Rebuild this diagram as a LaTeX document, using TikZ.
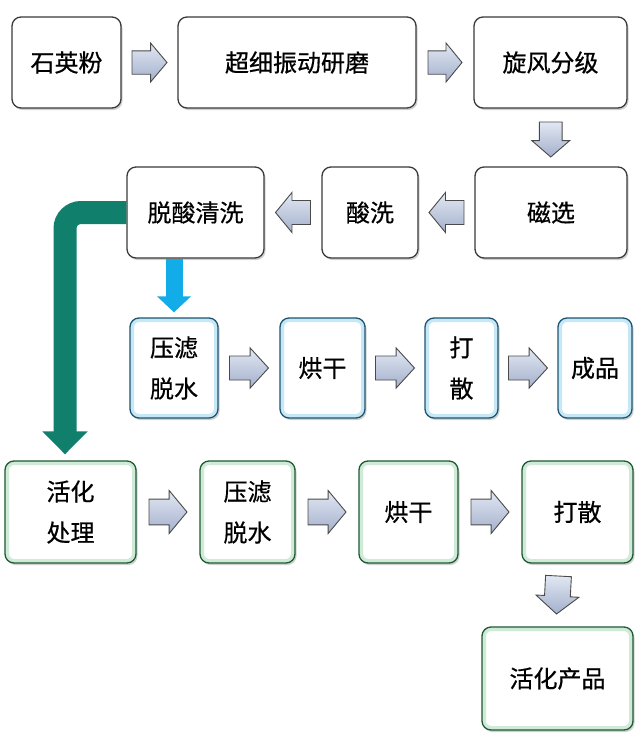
\documentclass[tikz,border=0pt]{standalone}
\usepackage{fontspec}
\newfontfamily\cjk[FakeBold=0.6]{Noto Sans CJK SC}
\usetikzlibrary{calc,shadows,arrows.meta}
\definecolor{boxgray}{HTML}{3A3A3A}
\definecolor{blueborder}{HTML}{1E5470}
\definecolor{glowblue}{HTML}{C6E8F6}
\definecolor{greenborder}{HTML}{1D5A33}
\definecolor{glowgreen}{HTML}{CFEBD7}
\definecolor{greenarr}{HTML}{10806C}
\definecolor{bluearr}{HTML}{12ADE9}
\definecolor{arrtop}{HTML}{E2E8F3}
\definecolor{arrbot}{HTML}{A3B0CC}
\definecolor{arredge}{HTML}{4A4A4A}
\tikzset{
  box/.style={draw=boxgray, line width=1.3pt, rounded corners=9pt, fill=white,
    align=center, inner sep=0pt, text=black,
    font=\cjk\fontsize{24}{41}\selectfont,
    drop shadow={shadow xshift=1.5pt, shadow yshift=-2pt, opacity=0.3, fill=black!60}},
  bluebox/.style={box, draw=blueborder,
    path picture={\draw[glowblue, line width=8pt, rounded corners=9pt]
      (path picture bounding box.south west) rectangle (path picture bounding box.north east);}},
  greenbox/.style={box, draw=greenborder,
    path picture={\draw[glowgreen, line width=8pt, rounded corners=9pt]
      (path picture bounding box.south west) rectangle (path picture bounding box.north east);}},
  barrow/.style={draw=arredge, line width=0.9pt, top color=arrtop, bottom color=arrbot, line join=miter},
}
\newcommand\blockarr[4]{%
  \begin{scope}[shift={#1}, rotate=#2]
    \pgfmathsetmacro\baL{#3/2}\pgfmathsetmacro\baW{#4/2}%
    \pgfmathsetmacro\baS{#4*0.3}\pgfmathsetmacro\baX{#3/2-#3*0.47}%
    \draw[barrow] (-\baL,-\baS) -- (\baX,-\baS) -- (\baX,-\baW) -- (\baL,0) -- (\baX,\baW) -- (\baX,\baS) -- (-\baL,\baS) -- cycle;
  \end{scope}}
\begin{document}
\begin{tikzpicture}[x=1pt, y=-1pt]
\fill[white] (0,0) rectangle (640,742);
\useasboundingbox (0,0) rectangle (640,742);
% row 1
\node[box, minimum width=109pt, minimum height=91pt] (n1) at (66.5,62.5) {石英粉};
\node[box, minimum width=238pt, minimum height=91pt] (n2) at (297,62.5) {超细振动研磨};
\node[box, minimum width=153pt, minimum height=91pt] (n3) at (550.5,62.5) {旋风分级};
% row 2
\node[box, minimum width=152pt, minimum height=91pt] (n4) at (551,212.5) {磁选};
\node[box, minimum width=96pt, minimum height=91pt] (n5) at (370,212.5) {酸洗};
\node[box, minimum width=137pt, minimum height=91pt] (n6) at (195.5,212.5) {脱酸清洗};
% row 3
\node[bluebox, minimum width=88pt, minimum height=100pt] (n7) at (174,368) {压滤\\脱水};
\node[bluebox, minimum width=85pt, minimum height=100pt] (n8) at (322.5,368) {烘干};
\node[bluebox, minimum width=73pt, minimum height=100pt] (n9) at (461.5,368) {打\\散};
\node[bluebox, minimum width=74pt, minimum height=100pt] (n10) at (595,368) {成品};
% row 4
\node[greenbox, minimum width=131pt, minimum height=102pt] (n11) at (70.5,512) {活化\\处理};
\node[greenbox, minimum width=95pt, minimum height=102pt] (n12) at (247.5,512) {压滤\\脱水};
\node[greenbox, minimum width=99pt, minimum height=102pt] (n13) at (408.5,512) {烘干};
\node[greenbox, minimum width=111pt, minimum height=102pt] (n14) at (577.5,512) {打散};
\node[greenbox, minimum width=151pt, minimum height=103pt] (n15) at (557.5,678.5) {活化产品};
% block arrows
\blockarr{($(n1.east)!0.5!(n2.west)$)}{0}{35}{39}
\blockarr{($(n2.east)!0.5!(n3.west)$)}{0}{34}{39}
\blockarr{($(n3.south)!0.5!(n4.north)+(0,2)$)}{-90}{35}{38}
\blockarr{($(n4.west)!0.5!(n5.east)$)}{180}{35}{40}
\blockarr{($(n5.west)!0.5!(n6.east)$)}{180}{35}{40}
\blockarr{($(n7.east)!0.5!(n8.west)$)}{0}{39}{40}
\blockarr{($(n8.east)!0.5!(n9.west)$)}{0}{39}{40}
\blockarr{($(n9.east)!0.5!(n10.west)$)}{0}{39}{40}
\blockarr{($(n11.east)!0.5!(n12.west)$)}{0}{38}{43}
\blockarr{($(n12.east)!0.5!(n13.west)$)}{0}{38}{43}
\blockarr{($(n13.east)!0.5!(n14.west)$)}{0}{38}{43}
\blockarr{($(n14.south)!0.5!(n15.north)+(-10,0)$)}{-93}{38}{43}
% coloured arrows
\draw[bluearr, line width=17pt, -{Triangle[width=33pt,length=16pt]}, shorten >=5pt]
  (n7.north |- n6.south) -- (n7.north);
\draw[greenarr, line width=23pt, rounded corners=16pt, -{Triangle[width=44pt,length=23pt]}, shorten >=6pt]
  (n6.west) -| ([xshift=-5.5pt]n11.north);
\end{tikzpicture}
\end{document}
